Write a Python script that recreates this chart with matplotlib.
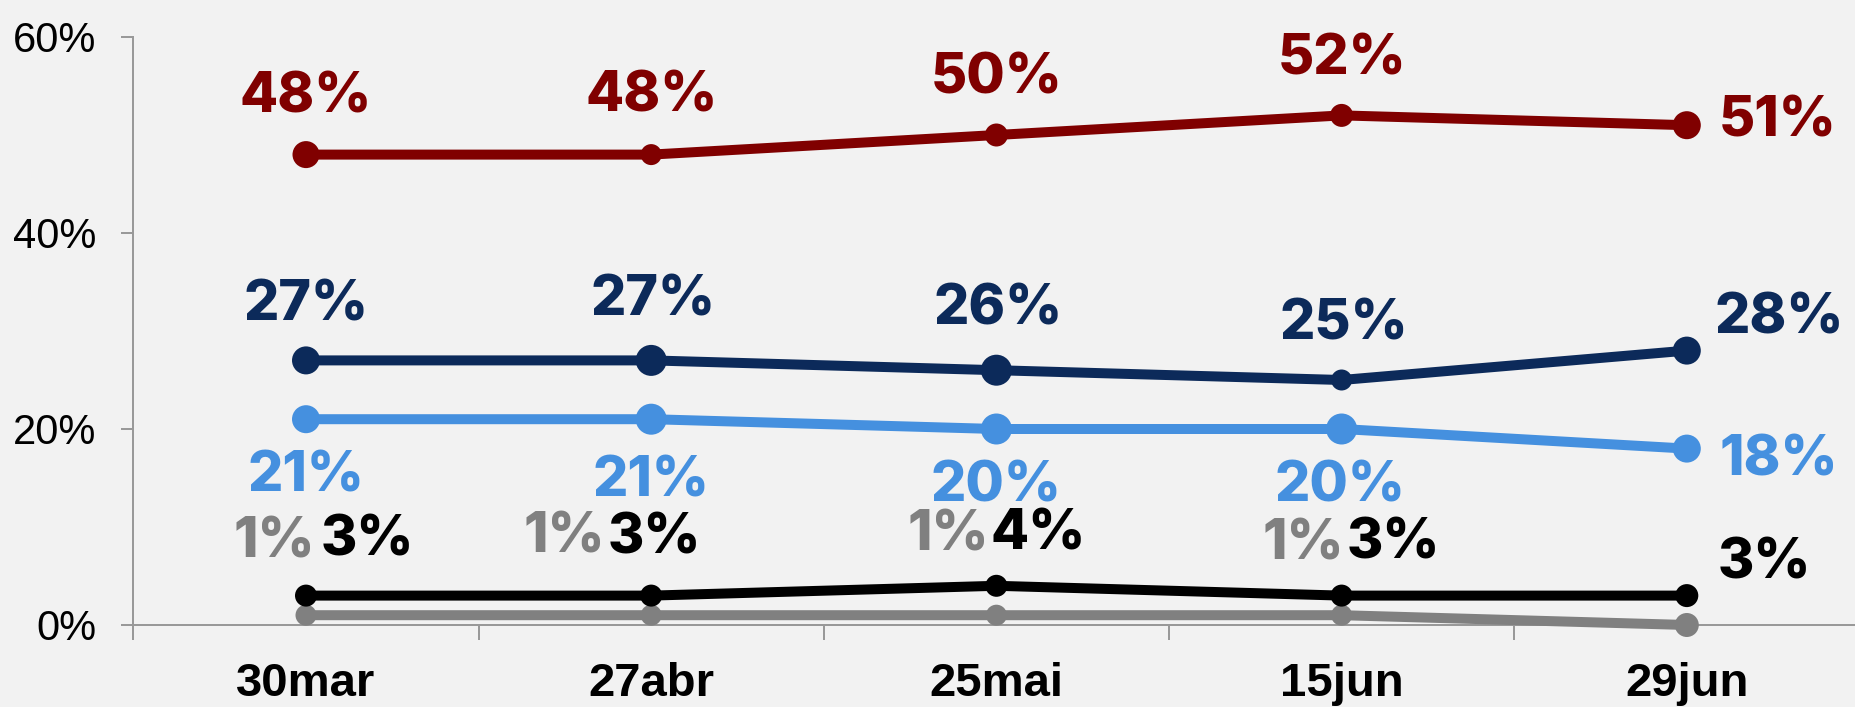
import matplotlib.pyplot as plt
import numpy as np

# Data
DATES = ['30mar', '27abr', '25mai', '15jun', '29jun']
RED = [48, 48, 50, 52, 51]
NAVY = [27, 27, 26, 25, 28]
LIGHT_BLUE = [21, 21, 20, 20, 18]
BLACK = [3, 3, 4, 3, 3]
GRAY = [1, 1, 1, 1, 0]
Y_TICKS = [0, 20, 40, 60]

# marker diameters (px) as drawn in the reference
RED_SIZES = [27, 21, 23, 23, 28]
NAVY_SIZES = [28, 31, 31, 21, 28]
BLUE_SIZES = [28, 31, 31, 31, 28]
BLACK_SIZES = [22, 22, 22, 22, 23]
GRAY_SIZES = [21, 21, 21, 21, 24]

# label offsets in pixels (dx, dy) from the point, None = no label
RED_OFF = [(0, 57), (0, 58), (0, 57), (0, 56), (91, 4)]
NAVY_OFF = [(0, 55), (2, 60), (2, 61), (2, 55), (92, 32)]
BLUE_OFF = [(0, -57), (0, -62), (0, -58), (-2, -58), (92, -12)]
BLACK_OFF = [(61, 55), (3, 57), (42, 51), (52, 52), (78, 32)]
GRAY_OFF = [(-32, 73), (-87, 78), (-48, 80), (-38, 71), None]

BG = '#F2F2F2'
AXIS_GREY = '#999999'
PX = 72 / 100  # pixels -> points at dpi 100

fig = plt.figure(figsize=(18.55, 7.07), dpi=100, facecolor=BG)
ax = fig.add_axes([133.4 / 1855, 1 - 625 / 707, 1726 / 1855, 588 / 707])
ax.set_facecolor(BG)

x = np.arange(len(DATES))

series = [
    (GRAY, '#808080', GRAY_SIZES, GRAY_OFF),
    (BLACK, '#000000', BLACK_SIZES, BLACK_OFF),
    (LIGHT_BLUE, '#4590DF', BLUE_SIZES, BLUE_OFF),
    (NAVY, '#0C2A5A', NAVY_SIZES, NAVY_OFF),
    (RED, '#800000', RED_SIZES, RED_OFF),
]

label_font = dict(family=['Inter', 'DejaVu Sans'], fontweight='heavy', fontsize=40)

for vals, color, sizes, offs in series:
    ax.plot(x, vals, color=color, linewidth=10 * PX, solid_capstyle='round',
            zorder=3, clip_on=False)
    ax.scatter(x, vals, s=(np.array(sizes) * PX) ** 2, color=color, zorder=4,
               linewidths=0, clip_on=False)
    for xi, v, off in zip(x, vals, offs):
        if off is None:
            continue
        ax.annotate(f'{v}%', (xi, v), xytext=off, textcoords='offset pixels',
                    ha='center', va='center', color=color, **label_font)

# axes limits and ticks
ax.set_xlim(-0.5, len(DATES) - 0.5)
ax.set_ylim(0, 60)

ax.set_yticks(Y_TICKS)
ax.set_yticklabels([f'{t}%' for t in Y_TICKS], fontsize=30, family='Liberation Sans')
ax.tick_params(axis='y', direction='out', length=12 * PX, width=2 * PX,
               color=AXIS_GREY, pad=18)

ax.set_xticks(np.arange(-0.5, len(DATES)), labels=[''] * (len(DATES) + 1))
ax.set_xticks(x, minor=True)
ax.set_xticklabels(DATES, minor=True, fontsize=34, fontweight='bold', family='Liberation Sans')
ax.tick_params(axis='x', which='major', direction='out', length=15 * PX, width=2 * PX,
               color=AXIS_GREY)
ax.tick_params(axis='x', which='minor', length=0, pad=27)

ax.spines['top'].set_visible(False)
ax.spines['right'].set_visible(False)
for side in ['left', 'bottom']:
    ax.spines[side].set_color(AXIS_GREY)
    ax.spines[side].set_linewidth(2 * PX)

fig.savefig('out.png', dpi=100, facecolor=BG)
